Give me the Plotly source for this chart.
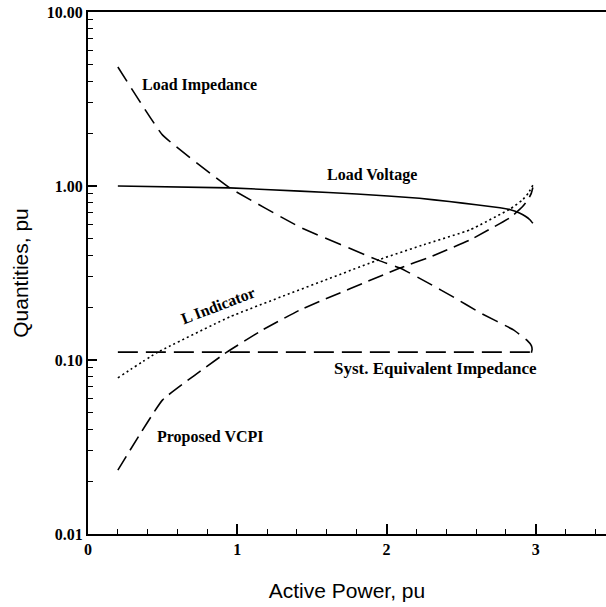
import plotly.graph_objects as go

# ---- data ----
imp_x = [0.2, 0.5, 0.95, 1.42, 1.96, 2.09, 2.29, 2.44, 2.63, 2.85, 2.94, 2.97, 2.975, 2.97]
imp_y = [4.83, 1.96, 0.975, 0.58, 0.37, 0.338, 0.274, 0.232, 0.186, 0.149, 0.130, 0.121, 0.115, 0.110]

volt_x = [0.2, 0.95, 1.42, 1.8, 2.22, 2.42, 2.6, 2.76, 2.83, 2.89, 2.93, 2.96, 2.98]
volt_y = [1.0, 0.975, 0.935, 0.90, 0.85, 0.815, 0.78, 0.75, 0.73, 0.70, 0.67, 0.64, 0.61]

lind_x = [0.2, 0.46, 0.95, 1.96, 2.25, 2.56, 2.83, 2.91, 2.95, 2.98]
lind_y = [0.079, 0.11, 0.177, 0.38, 0.46, 0.56, 0.74, 0.83, 0.91, 1.01]

vcpi_x = [0.2, 0.5, 0.93, 1.17, 1.42, 2.09, 2.29, 2.56, 2.83, 2.91, 2.95, 2.97, 2.98]
vcpi_y = [0.0233, 0.059, 0.111, 0.149, 0.194, 0.338, 0.39, 0.49, 0.66, 0.76, 0.84, 0.91, 0.98]

syst_x = [0.2, 2.97]
syst_y = [0.111, 0.111]

y_tick_vals = [0.01, 0.1, 1, 10]
y_tick_text = ["0.01", "0.10", "1.00", "10.00"]
x_tick_vals = [0, 1, 2, 3]
x_tick_text = ["0", "1", "2", "3"]

fig = go.Figure()
line_w = 1.6
fig.add_trace(go.Scatter(x=imp_x, y=imp_y, mode="lines",
                         line=dict(color="black", width=line_w, dash="17px,8px", shape="spline", smoothing=0.3)))
fig.add_trace(go.Scatter(x=volt_x, y=volt_y, mode="lines",
                         line=dict(color="black", width=line_w, shape="spline", smoothing=0.3)))
fig.add_trace(go.Scatter(x=lind_x, y=lind_y, mode="lines",
                         line=dict(color="black", width=1.6, dash="2px,3px", shape="spline", smoothing=0.3)))
fig.add_trace(go.Scatter(x=vcpi_x, y=vcpi_y, mode="lines",
                         line=dict(color="black", width=line_w, dash="16px,7px", shape="spline", smoothing=0.3)))
fig.add_trace(go.Scatter(x=syst_x, y=syst_y, mode="lines",
                         line=dict(color="black", width=line_w, dash="20px,8px")))

def lab(text, x, ly, angle=0, size=16):
    fig.add_annotation(text=text, x=x, y=ly, xref="x", yref="y", showarrow=False,
                       font=dict(family="Liberation Serif", size=size, color="black", weight="bold"),
                       textangle=angle)

lab("Load Impedance", 0.75, 0.58)
lab("Load Voltage", 1.90, 0.063)
lab("L Indicator", 0.87, -0.684, -21)
lab("Syst. Equivalent Impedance", 2.33, -1.046, size=17)
lab("Proposed VCPI", 0.82, -1.443)

tick_font = dict(family="Liberation Serif", size=16, color="black", weight="bold")
fig.update_layout(
    width=606, height=607,
    margin=dict(l=88, r=0, t=12, b=73),
    paper_bgcolor="white", plot_bgcolor="white",
    showlegend=False,
    xaxis=dict(range=[0, 3.47], tickvals=x_tick_vals, ticktext=x_tick_text, automargin=False,
               ticks="inside", ticklen=10, tickwidth=1.5, tickcolor="black",
               showline=True, linecolor="black", linewidth=2, mirror=True,
               showgrid=False, zeroline=False, tickfont=tick_font,
               minor=dict(ticks="inside", ticklen=5, dtick=0.2, tickwidth=1.2,
                          tickcolor="black", showgrid=False),
               title=dict(text="Active Power, pu", standoff=26,
                          font=dict(family="Liberation Sans", size=21, color="black"))),
    yaxis=dict(type="log", range=[-2, 1], tickvals=y_tick_vals, ticktext=y_tick_text, automargin=False,
               ticks="inside", ticklen=9, tickwidth=1.5, tickcolor="black",
               showline=True, linecolor="black", linewidth=2,
               showgrid=False, zeroline=False, tickfont=tick_font,
               minor=dict(ticks="inside", ticklen=5, tickwidth=1.2, tickcolor="black",
                          showgrid=False, tickvals=[m * 10 ** e for e in (-2, -1, 0) for m in range(2, 10)]),
               title=dict(text="Quantities, pu", standoff=12,
                          font=dict(family="Liberation Sans", size=21, color="black"))),
)

fig.write_html("out.html", post_script="document.body.style.margin='0';",
               config={"displayModeBar": False})
